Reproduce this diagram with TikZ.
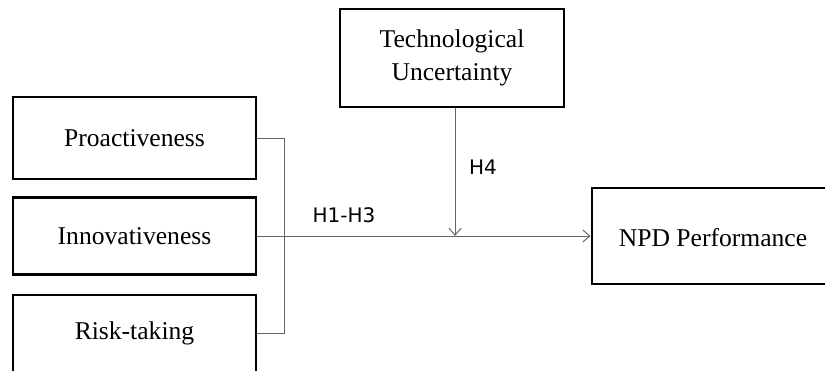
\documentclass[tikz,border=0pt]{standalone}
\usepackage{fontspec}
\setmainfont{Liberation Serif}
\newfontfamily\labfont{DejaVu Sans}
\usetikzlibrary{arrows.meta}
\begin{document}
\begin{tikzpicture}[x=1pt,y=-1pt,
  box/.style={draw=black,line width=2.8pt,rectangle,inner sep=0pt,font=\fontsize{25.6}{33}\selectfont,align=center},
  conn/.style={draw=black!60,line width=1pt},
  arr/.style={conn,-{Straight Barb[length=7pt,width=12pt,line width=1pt]}},
  lab/.style={font=\labfont\fontsize{20}{24}\selectfont,inner sep=0pt}]
\useasboundingbox (0,0) rectangle (825,370);
\clip (0,0) rectangle (825,370);
\node[box,minimum width=243pt,minimum height=82pt] (pro) at (134.5,138) {Proactiveness};
\node[box,minimum width=243pt,minimum height=77pt] (inn) at (134.5,236) {Innovativeness};
\node[box,minimum width=243pt,minimum height=77pt] (risk) at (134.5,333.5) {Risk-taking};
\node[box,minimum width=224pt,minimum height=98pt] (tech) at (452,58) {Technological\\Uncertainty};
\node[box,minimum width=240pt,minimum height=96pt] (npd) at (712,236) {};
\node[font=\fontsize{25.6}{33}\selectfont,inner sep=0pt] (npdt) at (713,238) {NPD Performance};
\coordinate (j) at (284,236);
\coordinate (m) at (455,236);
\draw[conn] (pro.east) -| (j);
\draw[conn] (risk.east) -| (j);
\draw[arr] (inn.east) -- (npd.west);
\draw[arr] (tech.south -| m) -- (m);
\node[lab] (h4) at (483,167) {H4};
\node[lab] (h13) at (344,215) {H1-H3};
\end{tikzpicture}
\end{document}
